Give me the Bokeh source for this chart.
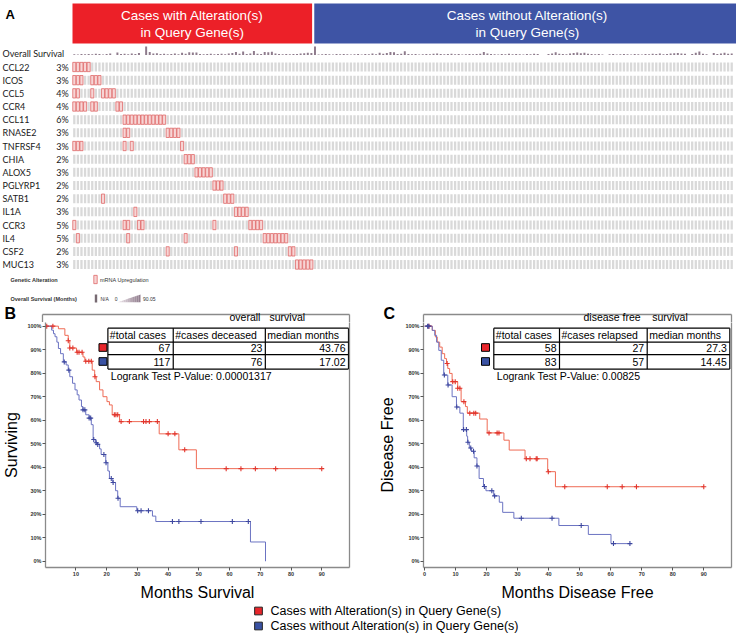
import numpy as np
from bokeh.plotting import figure
from bokeh.models import Range1d, FixedTicker, PrintfTickFormatter, LinearAxis
from bokeh.layouts import column, row
from bokeh.embed import file_html
from bokeh.resources import INLINE
from bokeh.core.properties import value

# ---------------- data: oncoprint (panel A) ----------------
genes = ["CCL22", "ICOS", "CCL5", "CCR4", "CCL11", "RNASE2", "TNFRSF4", "CHIA",
         "ALOX5", "PGLYRP1", "SATB1", "IL1A", "CCR3", "IL4", "CSF2", "MUC13"]
gene_pct = ["3%", "3%", "4%", "4%", "6%", "3%", "3%", "2%",
            "3%", "2%", "2%", "3%", "5%", "5%", "2%", "3%"]
# columns (case index, sorted as in the oncoprint) carrying mRNA upregulation
alt_cols = [
    [0, 1, 2, 3, 4],                          # CCL22
    [0, 1, 2, 5, 6, 7],                       # ICOS
    [0, 1, 5, 8, 9, 10, 11],                  # CCL5
    [0, 1, 2, 3, 5, 6, 12, 13],               # CCR4
    [14, 15, 16, 17, 18, 19, 20, 21, 22, 23, 24, 25],  # CCL11
    [14, 15, 26, 27, 28, 29],                 # RNASE2
    [0, 1, 2, 14, 16, 30],                    # TNFRSF4
    [31, 32, 33],                             # CHIA
    [34, 35, 36, 37, 38],                     # ALOX5
    [39, 40, 41],                             # PGLYRP1
    [8, 42, 43, 44],                          # SATB1
    [17, 45, 46, 47, 48],                     # IL1A
    [0, 14, 15, 18, 19, 39, 49, 50, 51, 52],  # CCR3
    [1, 15, 31, 53, 54, 55, 56, 57, 58, 59],  # IL4
    [26, 45, 60, 61],                         # CSF2
    [62, 63, 64, 65, 66],                     # MUC13
]
n_altered = 67
n_unaltered = 117
os_max = 90.05
os_months = [
    8, 6, 9, 7, 10, 8, 12, 9, 6, 10,
    14, 0, 25, 10, 12, 8, 14, 10, 20, 0,
    85, 30, 15, 18, 10, 12, 8, 10, 14, 8,
    22, 12, 28, 26, 24, 10, 8, 10, 12, 8,
    10, 12, 8, 14, 20, 30, 12, 35, 10, 14,
    40, 12, 10, 30, 28, 32, 14, 10, 8, 10,
    8, 10, 10, 14, 18, 22, 20, 85, 5, 8,
    10, 8, 6, 10, 8, 10, 8, 6, 8, 10,
    5, 10, 8, 14, 8, 22, 12, 20, 30, 28,
    10, 12, 38, 10, 8, 10, 6, 8, 10, 8,
    12, 14, 10, 8, 10, 12, 8, 10, 6, 8,
    10, 8, 10, 12, 30, 14, 10, 8, 6, 10,
    8, 12, 8, 10, 8, 6, 10, 8, 12, 10,
    0, 0, 10, 14, 28, 12, 10, 8, 14, 20,
    26, 18, 22, 12, 10, 8, 10, 6, 0, 8,
    10, 6, 8, 10, 8, 6, 10, 8, 6, 10,
    8, 12, 10, 14, 8, 10, 16, 18, 20, 14,
    12, 0, 10, 22, 35, 12, 8, 0, 20, 10,
    16, 22, 12, 14,
]
group_labels = [["Cases with Alteration(s)", "in Query Gene(s)"],
                ["Cases without Alteration(s)", "in Query Gene(s)"]]

# ---------------- data: Kaplan-Meier, panel B (overall survival) ----------------
os_alt_t = [0, 4.3, 6.4, 7.5, 8.0, 10.2, 12.3, 12.9, 15.3, 16.1, 16.6, 17.7, 18.8, 20.1,
            20.9, 21.8, 24.2, 37.1, 43.5, 49.2, 90.0]
os_alt_s = [100, 98.9, 96.1, 93.8, 90.7, 88.9, 86.9, 85.1, 81.3, 78.5, 76.4, 72.9, 70.0, 67.9,
            66.5, 62.3, 59.4, 54.2, 47.4, 39.4, 39.4]
os_alt_cens = [0.5, 2.5, 7.5, 8.0, 9.0, 10.4, 11.0, 12.0, 13.2, 14.2, 15.0, 16.2, 22.5, 23.0,
               23.6, 24.7, 27.4, 32.0, 32.8, 33.9, 36.5, 40.0, 42.2, 45.4, 58.9, 63.7, 68.4,
               75.0, 90.0]
os_unalt_t = [0, 2.1, 2.7, 3.2, 3.8, 4.3, 5.0, 5.9, 6.8, 7.5, 8.0, 8.9, 9.7, 10.4, 11.0, 11.8,
              12.3, 13.2, 14.3, 15.0, 15.6, 16.4, 17.0, 17.7, 18.2, 19.7, 20.4, 20.9, 22.0,
              22.9, 23.6, 24.4, 29.8, 34.9, 36.0, 66.8, 71.7]
os_unalt_s = [100, 98.3, 96.8, 95.5, 93.2, 90.5, 88.3, 84.8, 83.5, 81.3, 78.5, 75.7, 72.9, 70.8,
              68.6, 65.8, 64.4, 62.3, 60.9, 58.1, 51.8, 50.4, 49.7, 47.8, 45.4, 41.9, 38.4,
              35.2, 33.5, 30.0, 26.8, 23.2, 21.5, 19.2, 16.9, 8.2, 0]
os_unalt_cens = [6.2, 7.7, 12.3, 12.9, 14.3, 14.8, 15.8, 16.6, 17.1, 19.1, 19.8, 21.5, 22.1,
                 23.7, 30.1, 31.2, 33.6, 41.4, 43.5, 50.7, 60.9, 66.1]
os_headers = ["#total cases", "#cases deceased", "median months"]
os_alt_row = ["67", "23", "43.76"]
os_unalt_row = ["117", "76", "17.02"]
os_pvalue = "0.00001317"
os_title = ["overall", "survival"]

# ---------------- data: Kaplan-Meier, panel C (disease free) ----------------
dfs_alt_t = [0, 2.5, 3.5, 4.1, 4.9, 5.7, 6.5, 7.1, 7.5, 8.1, 8.9, 10.7, 11.8, 13.2, 13.8,
             17.8, 20.2, 25.6, 27.3, 32.4, 39.7, 42.2, 90.0]
dfs_alt_s = [100, 98.2, 95.4, 93.2, 91.1, 88.3, 86.2, 84.1, 82.0, 79.9, 76.4, 73.6, 67.9, 65.8,
             63.0, 60.5, 54.6, 51.5, 47.3, 43.6, 38.1, 31.7, 31.7]
dfs_alt_cens = [1.4, 7.3, 9.1, 9.9, 10.7, 11.4, 12.7, 14.6, 15.9, 16.5, 20.8, 23.4, 24.0, 32.8,
                34.0, 36.0, 36.3, 39.9, 45.2, 58.9, 63.7, 68.3, 90.0]
dfs_unalt_t = [0, 2.5, 3.3, 3.9, 4.6, 5.4, 6.2, 7.5, 8.9, 10.3, 11.4, 12.5, 13.6, 13.9, 14.45,
               15.1, 16.0, 16.9, 17.6, 19.0, 19.8, 22.3, 24.1, 25.2, 28.8, 43.3, 52.8, 60.1, 66.2]
dfs_unalt_s = [100, 98.2, 96.1, 93.2, 89.7, 85.5, 79.2, 75.0, 70.0, 65.6, 63.0, 56.0, 53.2, 50.6,
               48.2, 46.8, 44.0, 40.5, 35.2, 31.8, 30.0, 27.8, 25.1, 20.8, 18.3, 15.2, 11.4, 7.5, 7.5]
dfs_unalt_cens = [1.0, 1.4, 6.4, 7.6, 10.4, 12.6, 13.5, 14.0, 14.9, 15.8, 16.9, 19.3, 21.7, 22.6,
                  31.2, 41.1, 50.5, 60.9, 66.2]
dfs_headers = ["#total cases", "#cases relapsed", "median months"]
dfs_alt_row = ["58", "27", "27.3"]
dfs_unalt_row = ["83", "57", "14.45"]
dfs_pvalue = "0.00825"
dfs_title = ["disease free", "survival"]

legend_labels = ["Cases with Alteration(s) in Query Gene(s)",
                 "Cases without Alteration(s) in Query Gene(s)"]

# ---------------- styles / layout constants (pixels) ----------------
FONT = "Liberation Sans"
ONC_FONT = "Lato"
RED_HDR, BLUE_HDR = "#ec2028", "#3e54a5"
RED_SQ, BLUE_SQ = "#e8262b", "#3a52a3"
RED_LINE, BLUE_LINE = "#ef6b55", "#6b73c2"
RED_MARK, BLUE_MARK = "#e2352c", "#3d479f"
CELL_GRAY = "#d9d9d9"
OS_BAR = "#8e7b8c"
FRAME_GRAY = "#8a8a8a"

W = 736
SPLIT = 322          # y where the KM figures begin
LEG_TOP = 603
TOP_H, KM_H, LEG_H = SPLIT, LEG_TOP - SPLIT, 636 - LEG_TOP
BOX_TOP, FRAME_B, PCT0 = 314, 569, 562.7
SX, SY = 3.103, 2.37
B_BOX = (42, 349)
C_BOX = (423, 731)

# ================= panel A: oncoprint =================
TOTAL = n_altered + n_unaltered
PITCH = (733 - 72) / TOTAL
ROWP = 13.17


def cx(px):
    return (px - 72 - PITCH / 2) / PITCH


def ry(py):
    return (py - 66.5) / ROWP


top = figure(width=W, height=TOP_H, x_range=Range1d(cx(0), cx(W)),
             y_range=Range1d(ry(TOP_H), ry(0)), output_backend="svg",
             toolbar_location=None, min_border=0, x_axis_location=None,
             y_axis_location=None, outline_line_color=None)
top.xgrid.visible = False
top.ygrid.visible = False

# header blocks
hdr_l = [-0.5, n_altered - 0.5 + 0.3]
hdr_r = [n_altered - 0.5 - 0.3, cx(740)]
top.quad(left=hdr_l, right=hdr_r, top=ry(3), bottom=ry(43),
         fill_color=[RED_HDR, BLUE_HDR], line_color=None)
for i in range(2):
    xc = (hdr_l[i] + hdr_r[i]) / 2
    top.text(x=[xc, xc], y=[ry(14.5), ry(31.5)], text=group_labels[i],
             text_color="white", text_font=value(FONT), text_font_size=value("13.5px"),
             text_align="center", text_baseline="middle")

top.text(x=[cx(5)], y=[ry(13.8)], text=["A"], text_font=value(FONT),
         text_font_size=value("13px"), text_font_style="bold",
         text_align="left", text_baseline="middle")

# grey background cells
gx = np.tile(np.arange(TOTAL), len(genes))
gy = np.repeat(np.arange(len(genes)), TOTAL)
top.rect(x=gx, y=gy, width=0.64, height=9.0 / ROWP, fill_color=CELL_GRAY, line_color=None)

# altered cells
ax, ay = [], []
for gi, cols in enumerate(alt_cols):
    ax += cols
    ay += [gi] * len(cols)
top.rect(x=ax, y=ay, width=0.86, height=9.3 / ROWP, fill_color="#f7d5d5",
         line_color="#e06a6a", line_width=0.8)

# overall survival track
base = ry(54.5)
hts = np.array(os_months, dtype=float) / os_max * (9.0 / ROWP)
top.vbar(x=np.arange(TOTAL), bottom=base, top=base - hts, width=0.55,
         fill_color=OS_BAR, line_color=None)

# row labels
lab = dict(text_font=value(ONC_FONT), text_font_size=value("9px"), text_color="#1a1a1a",
           text_baseline="middle")
top.text(x=[cx(2)], y=[ry(52.5)], text=["Overall Survival"], text_align="left", **lab)
top.text(x=[cx(2)] * len(genes), y=list(range(len(genes))), text=genes,
         text_align="left", **lab)
top.text(x=[cx(68.3)] * len(genes), y=list(range(len(genes))), text=gene_pct,
         text_align="right", **lab)

# oncoprint legend
top.text(x=[cx(10), cx(10)], y=[ry(279), ry(298)],
         text=["Genetic Alteration", "Overall Survival (Months)"],
         text_font=value(FONT), text_font_size=value("5.5px"), text_font_style="bold",
         text_color="#333333", text_align="left", text_baseline="middle")
top.rect(x=[cx(95)], y=[ry(279)], width=3.4 / PITCH, height=8.3 / ROWP,
         fill_color="#f7d5d5", line_color="#e06a6a", line_width=0.8)
top.text(x=[cx(99.5)], y=[ry(279)], text=["mRNA Upregulation"], text_font=value(FONT),
         text_font_size=value("5.5px"), text_color="#333333", text_align="left",
         text_baseline="middle")
top.rect(x=[cx(95.5)], y=[ry(298)], width=2.4 / PITCH, height=8.0 / ROWP,
         fill_color="#776a72", line_color=None)
top.text(x=[cx(100), cx(114.3), cx(142.5)], y=[ry(298)] * 3, text=["N/A", "0", "%.2f" % os_max],
         text_font=value(FONT), text_font_size=value("5px"), text_color="#333333",
         text_align="left", text_baseline="middle")
nsl = 12
xa, xb, yb, yt = 117.3, 140.0, 301.7, 294.0
sl_x, sl_y, sl_c = [], [], []
for k in range(nsl):
    a = xa + (xb - xa) * k / nsl
    b = xa + (xb - xa) * (k + 1) / nsl
    ta = yb - (yb - yt) * k / nsl
    tb = yb - (yb - yt) * (k + 1) / nsl
    sl_x.append([cx(a), cx(b), cx(b), cx(a)])
    sl_y.append([ry(yb), ry(yb), ry(tb), ry(ta)])
    f = (k + 0.5) / nsl
    c0, c1 = np.array([0xee, 0xe6, 0xeb]), np.array([0x8e, 0x7b, 0x8c])
    c = (c0 + (c1 - c0) * f).astype(int)
    sl_c.append("#%02x%02x%02x" % tuple(c))
top.patches(xs=sl_x, ys=sl_y, fill_color=sl_c, line_color=None)

# upper strip of panels B and C (letters, box tops, table titles)
top.text(x=[cx(4), cx(383)], y=[ry(312.5), ry(313.3)], text=["B", "C"],
         text_font=value(FONT), text_font_size=value("16px"), text_font_style="bold",
         text_align="left", text_baseline="middle")
for (l, r) in (B_BOX, C_BOX):
    top.segment(x0=[cx(l), cx(l), cx(r)], x1=[cx(r), cx(l), cx(r)],
                y0=[ry(BOX_TOP)] * 3, y1=[ry(BOX_TOP), ry(SPLIT + 1), ry(SPLIT + 1)],
                line_color=FRAME_GRAY, line_width=1.3)
top.text(x=[cx(229), cx(269), cx(583), cx(651.7)], y=[ry(316)] * 4,
         text=os_title + dfs_title, text_font=value(FONT), text_font_size=value("10.5px"),
         text_color="black", text_align="left", text_baseline="middle")

# ================= panels B and C: Kaplan-Meier =================


def km_panel(x0, width, box, zero_px, ylab, ylab_standoff, xlab,
             headers, row_red, row_blue, pval, tab_x, sq_x,
             rt, rs, rc, bt, bs, bc):
    fl, fr = box

    def mx(px):
        return (px - zero_px) / SX

    def py(pyy):
        return (PCT0 - pyy) / SY

    p = figure(width=width, height=KM_H, x_range=Range1d(mx(fl), mx(fr)),
               y_range=Range1d(py(FRAME_B), py(SPLIT)),
               output_backend="svg", toolbar_location=None,
               min_border_left=fl - x0, min_border_right=x0 + width - fr,
               min_border_top=0, min_border_bottom=SPLIT + KM_H - FRAME_B,
               outline_line_color=None)
    p.xgrid.visible = False
    p.ygrid.visible = False
    p.xaxis.ticker = FixedTicker(ticks=list(range(0, 100, 10)))
    p.yaxis.ticker = FixedTicker(ticks=list(range(0, 101, 10)))
    p.yaxis.formatter = PrintfTickFormatter(format="%d%%")
    p.axis.major_label_text_font = FONT
    p.axis.major_label_text_font_size = "5.5px"
    p.axis.major_label_text_font_style = "bold"
    p.axis.major_label_text_color = "#333333"
    p.axis.major_tick_out = 3
    p.axis.major_tick_in = 0
    p.axis.major_tick_line_color = "#555555"
    p.axis.minor_tick_line_color = None
    p.axis.axis_line_color = FRAME_GRAY
    p.axis.axis_line_width = 1.3
    p.xaxis.major_label_standoff = 1
    p.yaxis.major_label_standoff = 1
    for a, txt, so in ((p.xaxis, xlab, 5), (p.yaxis, ylab, ylab_standoff)):
        a.axis_label = txt
        a.axis_label_text_font = FONT
        a.axis_label_text_font_size = "16px"
        a.axis_label_text_font_style = "normal"
        a.axis_label_text_color = "black"
        a.axis_label_standoff = so
    # right side of the box
    p.add_layout(LinearAxis(ticker=FixedTicker(ticks=[]), axis_line_color=FRAME_GRAY,
                            axis_line_width=1.3, major_tick_line_color=None,
                            minor_tick_line_color=None,
                            major_label_text_font_size="0px"), "right")

    # survival curves
    p.step(x=rt, y=rs, mode="after", line_color=RED_LINE, line_width=1)
    p.step(x=bt, y=bs, mode="after", line_color=BLUE_LINE, line_width=1)
    for t, s, cens, col in ((rt, rs, rc, RED_MARK), (bt, bs, bc, BLUE_MARK)):
        cc = np.array(cens, dtype=float)
        idx = np.searchsorted(np.array(t, dtype=float), cc, side="right") - 1
        yy = np.array(s, dtype=float)[idx]
        p.scatter(x=cc, y=yy, marker="cross", size=5, line_color=col, line_width=1.1)

    # table
    ty = [327.7, 341.7, 354.3, 369.0]
    p.segment(x0=[mx(tab_x[0])] * 4, x1=[mx(tab_x[-1])] * 4,
              y0=[py(v) for v in ty], y1=[py(v) for v in ty],
              line_color="black", line_width=1.2)
    p.segment(x0=[mx(v) for v in tab_x], x1=[mx(v) for v in tab_x],
              y0=[py(ty[0])] * 4, y1=[py(ty[-1])] * 4,
              line_color="black", line_width=1.2)
    rowc = [(ty[i] + ty[i + 1]) / 2 for i in range(3)]
    tstyle = dict(text_font=value(FONT), text_font_size=value("10.5px"),
                  text_color="black", text_baseline="middle")
    p.text(x=[mx(v + 2) for v in tab_x[:3]], y=[py(rowc[0])] * 3, text=headers,
           text_align="left", **tstyle)
    p.text(x=[mx(v - 3) for v in tab_x[1:]], y=[py(rowc[1])] * 3, text=row_red,
           text_align="right", **tstyle)
    p.text(x=[mx(v - 3) for v in tab_x[1:]], y=[py(rowc[2])] * 3, text=row_blue,
           text_align="right", **tstyle)
    p.text(x=[mx(tab_x[0] + 3)], y=[py(375.5)], text=["Logrank Test P-Value: " + pval],
           text_align="left", **tstyle)
    p.rect(x=[mx(sq_x)] * 2, y=[py(347.2), py(361.3)], width=8 / SX, height=7.7 / SY,
           fill_color=[RED_SQ, BLUE_SQ], line_color="black", line_width=1)
    return p


pB = km_panel(0, 372, B_BOX, 41.7, "Surviving", 4, "Months Survival",
              os_headers, os_alt_row, os_unalt_row, os_pvalue,
              [105, 171, 264, 348], 100,
              os_alt_t, os_alt_s, os_alt_cens, os_unalt_t, os_unalt_s, os_unalt_cens)
pC = km_panel(372, W - 372, C_BOX, 424, "Disease Free", 6, "Months Disease Free",
              dfs_headers, dfs_alt_row, dfs_unalt_row, dfs_pvalue,
              [493.3, 559, 646.7, 729.3], 485,
              dfs_alt_t, dfs_alt_s, dfs_alt_cens, dfs_unalt_t, dfs_unalt_s, dfs_unalt_cens)

# ================= bottom legend =================
leg = figure(width=W, height=LEG_H, x_range=Range1d(0, W),
             y_range=Range1d(LEG_TOP + LEG_H, LEG_TOP), output_backend="svg",
             toolbar_location=None, min_border=0, x_axis_location=None,
             y_axis_location=None, outline_line_color=None)
leg.xgrid.visible = False
leg.ygrid.visible = False
leg_y = [610.5, 625.5]
leg.rect(x=[258, 258], y=leg_y, width=7.7, height=7.7, fill_color=[RED_SQ, BLUE_SQ],
         line_color="#222222", line_width=1)
leg.text(x=[270, 270], y=leg_y, text=legend_labels, text_font=value(FONT),
         text_font_size=value("12.5px"), text_color="black", text_align="left",
         text_baseline="middle")

layout = column(top, row(pB, pC), leg)
open("out.html", "w").write(file_html(layout, INLINE))
